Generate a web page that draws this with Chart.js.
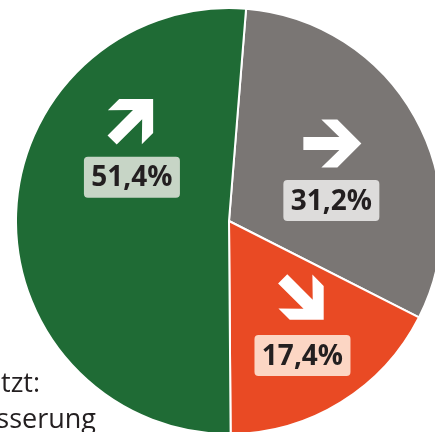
<!DOCTYPE html>
<html>
<head>
<meta charset="utf-8">
<script src="https://cdn.jsdelivr.net/npm/chart.js@4"></script>
<style>
  body { margin: 0; background: #fff; }
  #wrap { width: 435px; height: 432px; overflow: hidden; position: relative; }
  canvas { position: absolute; left: 0; top: 0; }
</style>
</head>
<body>
<div id="wrap"><canvas id="trendPie" width="460" height="440"></canvas></div>
<script>
// clockwise from top: gleich, schlechter, besser
var categories = ['gleich', 'Verschlechterung', 'Verbesserung'];
var shares = [31.2, 17.4, 51.4];
var shareLabels = ['31,2%', '17,4%', '51,4%'];

var sliceColors = ['#7a7674', '#e94a24', '#1f6b35'];
var boxColors = ['#dddcdb', '#fcd6c4', '#c7d5c6'];
var arrowTurn = [0, 45, -45];
// where the label sits inside its slice: fraction of the slice angle, fraction of radius
var labelAngleFrac = [0.66, 0.55, 0.62];
var labelRadiusFrac = [0.49, 0.72, 0.50];

function drawArrow(ctx, x, y, deg) {
    ctx.save();
    ctx.translate(x, y);
    ctx.rotate(deg * Math.PI / 180);
    ctx.beginPath();
    ctx.moveTo(30, 0);
    ctx.lineTo(6, -24);
    ctx.lineTo(-10, -24);
    ctx.lineTo(8, -6.5);
    ctx.lineTo(-28, -6.5);
    ctx.lineTo(-28, 6.5);
    ctx.lineTo(8, 6.5);
    ctx.lineTo(-10, 24);
    ctx.lineTo(6, 24);
    ctx.closePath();
    ctx.fillStyle = '#ffffff';
    ctx.fill();
    ctx.restore();
}

var sliceLabels = {
    id: 'sliceLabels',
    afterDatasetsDraw: function(chart) {
        var ctx = chart.ctx;
        var arcs = chart.getDatasetMeta(0).data;
        arcs.forEach(function(arc, i) {
            var p = arc.getProps(['x', 'y', 'startAngle', 'endAngle', 'outerRadius'], true);
            var a = p.startAngle + labelAngleFrac[i] * (p.endAngle - p.startAngle);
            var r = p.outerRadius * labelRadiusFrac[i];
            var bx = p.x + r * Math.cos(a);
            var by = p.y + r * Math.sin(a);

            drawArrow(ctx, bx, by - 57, arrowTurn[i]);

            ctx.save();
            ctx.fillStyle = boxColors[i];
            ctx.beginPath();
            ctx.roundRect(bx - 48, by - 20.5, 96, 41, 4);
            ctx.fill();
            ctx.fillStyle = '#231f20';
            ctx.font = 'bold 28px "Open Sans"';
            ctx.textAlign = 'center';
            ctx.textBaseline = 'middle';
            ctx.fillText(shareLabels[i], bx, by + 1);
            ctx.restore();
        });

        // cut-off caption at lower left
        ctx.save();
        ctx.fillStyle = '#231f20';
        ctx.font = '27px "Open Sans"';
        ctx.textAlign = 'right';
        ctx.fillText('Geschätzt:', 40, 392);
        ctx.fillText('Verbesserung', 96, 428);
        ctx.restore();
    }
};

new Chart(document.getElementById('trendPie').getContext('2d'), {
    type: 'pie',
    data: {
        labels: categories,
        datasets: [{
            data: shares,
            backgroundColor: sliceColors,
            borderColor: '#ffffff',
            borderWidth: 2
        }]
    },
    options: {
        responsive: false,
        animation: false,
        rotation: 4.6,
        radius: 213,
        layout: { padding: { left: 16, top: 8, right: 18, bottom: 6 } },
        plugins: {
            legend: { display: false },
            tooltip: { enabled: false }
        }
    },
    plugins: [sliceLabels]
});
</script>
</body>
</html>
